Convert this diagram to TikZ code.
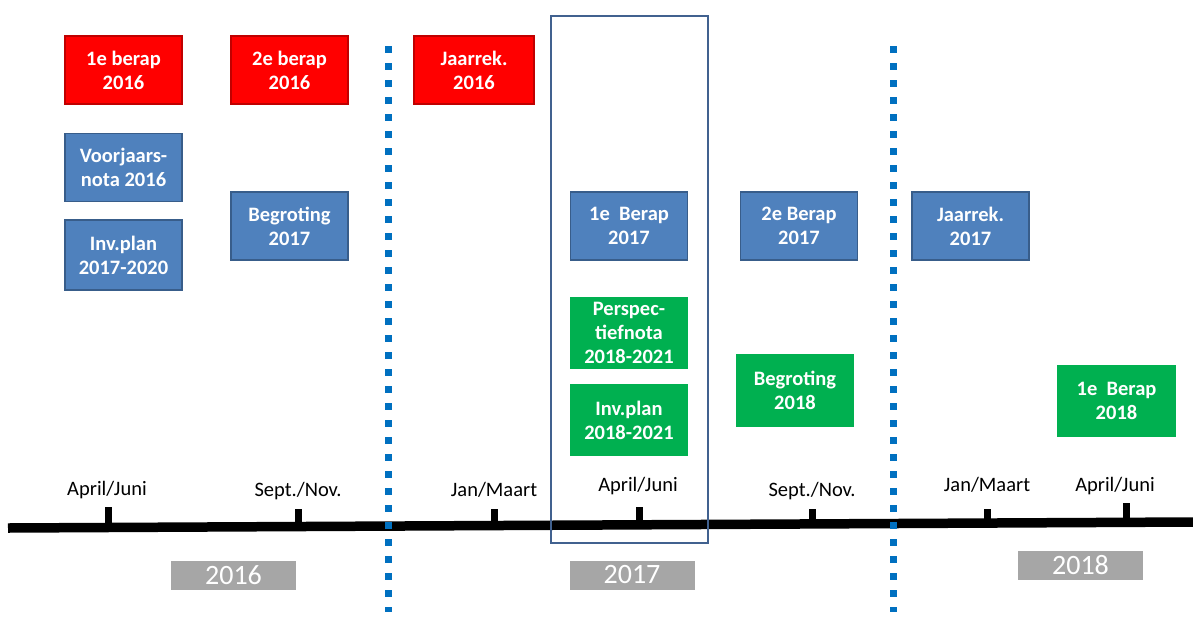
\documentclass[tikz,border=0pt]{standalone}
\usepackage{fontspec}
\setmainfont{Carlito}
\definecolor{bred}{HTML}{FF0000}
\definecolor{bredd}{HTML}{C00000}
\definecolor{bblue}{HTML}{4F81BD}
\definecolor{bblued}{HTML}{385D8A}
\definecolor{bgreen}{HTML}{00B050}
\definecolor{dotblue}{HTML}{0070C0}
\definecolor{yeargray}{HTML}{A6A6A6}
\definecolor{frameblue}{HTML}{41618F}
\begin{document}
\begin{tikzpicture}[x=1pt,y=-1pt,
  box/.style={rectangle, minimum width=117pt, minimum height=68pt, inner sep=0pt, align=center,
    text=white, font=\fontsize{20.5}{24}\selectfont\bfseries, line width=1.6pt},
  redbox/.style={box, fill=bred, draw=bredd},
  bluebox/.style={box, fill=bblue, draw=bblued},
  greenbox/.style={box, fill=bgreen, draw=bgreen},
  month/.style={font=\fontsize{20.5}{22}\selectfont, inner sep=0pt},
  yearbox/.style={rectangle, fill=yeargray, minimum width=125pt, minimum height=29pt, inner sep=0pt,
    text=white, font=\fontsize{28}{28}\selectfont},
  tickmark/.style={line width=7pt},
  divider/.style={dotblue, line width=7pt, dash pattern=on 7pt off 10pt}
]
\useasboundingbox (0,0) rectangle (1193,616);
% dividers
\coordinate (d1t) at (388,46); \coordinate (d1b) at (388,612);
\coordinate (d2t) at (893,46); \coordinate (d2b) at (893,612);
% timeline
\coordinate (tl) at (8,528); \coordinate (tr) at (1193,522);
\draw[line width=9.5pt] (tl) -- (tr);
\draw[divider] (d1t) -- (d1b);
\draw[divider] (d2t) -- (d2b);
% ticks
\foreach \n/\x/\yt/\yb in {t1/108/507/527, t2/298/509/526, t3/494/509/525, t4/639/507/524, t5/812/509/523, t6/987/509/522, t7/1126/503/521}{
  \coordinate (\n a) at (\x,\yt); \coordinate (\n b) at (\x,\yb);
  \draw[tickmark] (\n a) -- (\n b);
}
% month labels
\node[month] (m1) at (107,490) {April/Juni};
\node[month] (m2) at (298,491) {Sept./Nov.};
\node[month] (m3) at (494,490) {Jan/Maart};
\node[month] (m4) at (638,486) {April/Juni};
\node[month] (m5) at (812,491) {Sept./Nov.};
\node[month] (m6) at (987,485) {Jan/Maart};
\node[month] (m7) at (1115,486) {April/Juni};
% year boxes
\node[yearbox] (y16) at (233.5,575) {2016};
\node[yearbox] (y17) at (632,575) {2017};
\node[yearbox] (y18) at (1080.5,565) {2018};
% frame
\node[draw=frameblue, line width=1.8pt, minimum width=157pt, minimum height=527pt, inner sep=0pt] (frame) at (629.5,279.5) {};
% red boxes
\node[redbox] (b1) at (123.5,70) {1e berap\\2016};
\node[redbox] (b2) at (289.5,70) {2e berap\\2016};
\node[redbox, minimum width=120pt] (b3) at (474,70) {Jaarrek.\\2016};
% blue boxes
\node[bluebox] (b4) at (123.5,167.5) {Voorjaars-\\nota 2016};
\node[bluebox, minimum height=70pt] (b5) at (123.5,255) {Inv.plan\\2017-2020};
\node[bluebox] (b6) at (289.5,226) {Begroting\\2017};
\node[bluebox] (b7) at (629,226) {1e~~Berap\\2017};
\node[bluebox] (b8) at (799,226) {2e Berap\\2017};
\node[bluebox] (b9) at (970.5,226) {Jaarrek.\\2017};
% green boxes
\node[greenbox, minimum height=70pt] (b10) at (629,333) {Perspec-\\tiefnota\\2018-2021};
\node[greenbox, minimum height=70pt] (b11) at (629,420) {Inv.plan\\2018-2021};
\node[greenbox, minimum height=71pt] (b12) at (795,390.5) {Begroting\\2018};
\node[greenbox, minimum height=70pt] (b13) at (1116.5,401) {1e~~Berap\\2018};
\end{tikzpicture}
\end{document}
